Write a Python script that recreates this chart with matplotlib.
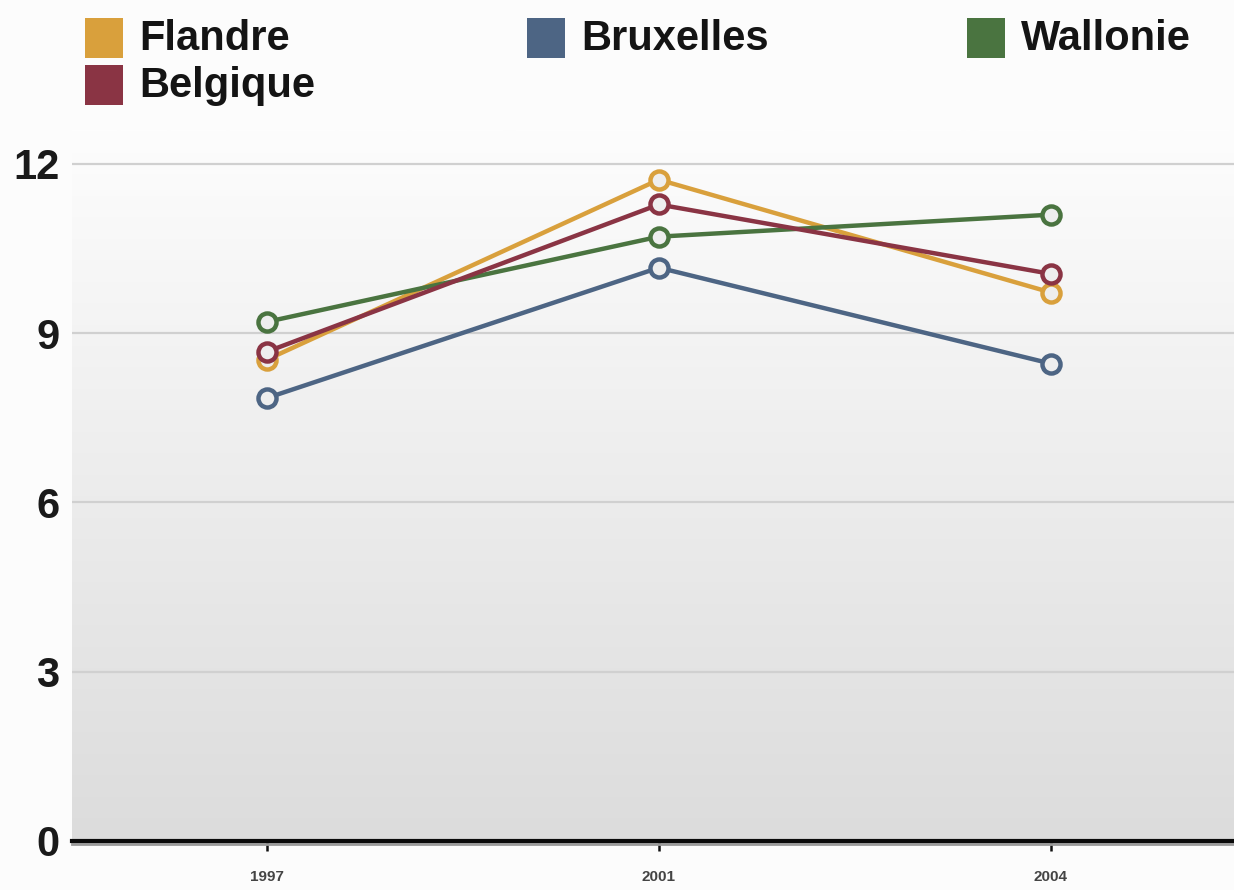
import numpy as np
import matplotlib
matplotlib.use("Agg")
import matplotlib.pyplot as plt
from matplotlib.patches import Rectangle
from matplotlib.colors import LinearSegmentedColormap

years = ["1997", "2001", "2004"]
series_names = ["Flandre", "Bruxelles", "Wallonie", "Belgique"]
flandre = [8.53, 11.72, 9.72]
bruxelles = [7.85, 10.16, 8.46]
wallonie = [9.20, 10.71, 11.10]
belgique = [8.67, 11.28, 10.05]
yticks = [0, 3, 6, 9, 12]
colors = {"Flandre": "#d9a03c", "Bruxelles": "#4d6584", "Wallonie": "#4a7440", "Belgique": "#8a3444"}
values = {"Flandre": flandre, "Bruxelles": bruxelles, "Wallonie": wallonie, "Belgique": belgique}

plt.rcParams['font.family'] = ['Liberation Sans', 'DejaVu Sans']

W, H = 1234, 890
fig = plt.figure(figsize=(W / 100, H / 100), dpi=100)
fig.patch.set_facecolor("#fcfcfc")

ax = fig.add_axes([72 / W, 49 / H, 1 - 72 / W, (841 - 130) / H])
ax.set_xlim(-0.497, 2.467)
ax.set_ylim(0, 12.6)

# background gradient
grad = np.linspace(0, 1, 256).reshape(-1, 1)
cmap = LinearSegmentedColormap.from_list("bg", ["#dcdcdc", "#fdfdfd"])
ax.imshow(grad, extent=[0, 1, 0, 1], transform=ax.transAxes, aspect="auto",
          cmap=cmap, origin="lower", zorder=0)

for yv in yticks[1:]:
    ax.axhline(yv, color="#d0d0d0", lw=1.6, zorder=1)

x = np.arange(len(years))
for name in series_names:
    c = colors[name]
    ax.plot(x, values[name], color=c, lw=3.2, marker="o", markersize=13,
            markeredgewidth=3.2, markeredgecolor=c, markerfacecolor="#eeeeee",
            zorder=3, solid_capstyle="round")

ax.set_xticks(x)
ax.set_xticklabels(years, fontsize=11, fontweight="bold", color="#444444")
ax.set_yticks(yticks)
ax.set_yticklabels([str(v) for v in yticks], fontsize=30, fontweight="bold", color="#1a1a1a")
ax.tick_params(axis="y", length=0, pad=9)
ax.tick_params(axis="x", length=7, width=1.8, color="#111111", pad=14, direction="out")

for s in ["left", "right", "top"]:
    ax.spines[s].set_visible(False)
ax.spines["bottom"].set_linewidth(3.0)
ax.spines["bottom"].set_color("#0a0a0a")
ax.spines["bottom"].set_zorder(5)
# faint shadow under axis line
ax.axhline(-0.06, color="#9a9a9a", lw=2.0, zorder=4, clip_on=False)

# legend (manual)
legend_pos = {"Flandre": (85, 18), "Bruxelles": (527, 18), "Wallonie": (967, 18), "Belgique": (85, 65)}
for name in series_names:
    px, py = legend_pos[name]
    fig.patches.append(Rectangle((px / W, 1 - (py + 40) / H), 38 / W, 40 / H,
                                 transform=fig.transFigure, facecolor=colors[name],
                                 edgecolor="none"))
    fig.text((px + 54) / W, 1 - (py + 21) / H, name, fontsize=30, fontweight="bold",
             color="#141414", va="center", ha="left")

fig.savefig("out.png", dpi=100, facecolor=fig.get_facecolor())
